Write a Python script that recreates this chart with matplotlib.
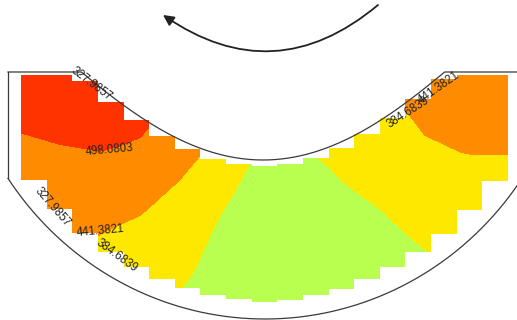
import numpy as np
import matplotlib
matplotlib.use("Agg")
import matplotlib.pyplot as plt
from matplotlib.path import Path
from matplotlib.patches import PathPatch, FancyArrowPatch

# contour levels and fill colours (under, bands..., over)
levels = [327.9857, 384.6839, 441.3821, 498.0803]
band_colors = ["#b8ff50", "#b8ff50", "#ffe800", "#ff8c00", "#ff3300"]

# field: stations along the bend (pixel x) and
# fractions of the way from the inner wall to the outer wall
x_nodes = [21, 60, 100, 140, 180, 220, 260, 300, 340, 380, 420, 460, 508]
eta_nodes = [0.0, 0.25, 0.5, 0.75, 1.0]
inner_row = [540, 545, 530, 510, 470, 425, 375, 378, 400, 425, 455, 490, 495]
row_25 = [520, 520, 510, 485, 440, 395, 360, 365, 382, 410, 438, 465, 480]
row_50 = [497, 490, 480, 447, 420, 375, 350, 350, 365, 385, 415, 436, 460]
row_75 = [480, 468, 446, 425, 400, 360, 340, 340, 350, 365, 392, 415, 430]
outer_row = [465, 452, 425, 400, 375, 345, 330, 330, 340, 350, 370, 398, 410]


def inner_curve(x):
    dx = np.asarray(x, float) - 263
    return 160 - (dx**2 / 330 - 1.1e-8 * dx**4)


def inner_wall(x):
    return np.maximum(72, inner_curve(x))


def outer_wall(x):
    u = (np.asarray(x, float) - 265) / 310
    return 319 * np.sqrt(np.clip(1 - u**2, 0, None))


fig = plt.figure(figsize=(5.17, 3.2), dpi=100)
ax = fig.add_axes([0, 0, 1, 1])
ax.set_xlim(0, 517)
ax.set_ylim(320, 0)
ax.axis("off")

# curvilinear grid between the walls
xn = np.array(x_nodes, float)
top = inner_wall(xn)
bot = outer_wall(xn)
eta = np.array(eta_nodes)
Y = top[None, :] + eta[:, None] * (bot - top)[None, :]
Y = np.vstack([top - 14, Y])
X = np.tile(xn, (Y.shape[0], 1))
field = np.array([inner_row, row_25, row_50, row_75, outer_row], float)
Z = np.vstack([field[0], field])

cs = ax.contourf(X, Y, Z, levels=levels, colors=band_colors, extend="both")

# stepped mesh edge
edges = np.linspace(21, 508, 20)
centers = (edges[:-1] + edges[1:]) / 2
tops = np.maximum(75, inner_curve(centers) + 6)
bots = np.minimum(outer_wall(edges[:-1]), outer_wall(edges[1:])) - 17
verts = []
for a, b, t in zip(edges[:-1], edges[1:], tops):
    verts += [(a, t), (b, t)]
for a, b, bt in reversed(list(zip(edges[:-1], edges[1:], bots))):
    verts += [(b, bt), (a, bt)]
verts.append(verts[0])
clip = PathPatch(Path(verts, closed=True), transform=ax.transData,
                 facecolor="none", edgecolor="none")
cs.set_clip_path(clip)

# channel outline
xs = np.linspace(8, 517, 800)
line_kw = dict(color="#3a3a3a", lw=0.9, zorder=3)
ax.plot(xs, inner_wall(xs), **line_kw)
ax.plot(xs, outer_wall(xs), **line_kw)
ax.plot([8, 8], [72, outer_wall(8)], **line_kw)

# contour labels
labels = [
    ("327.9857", 91, 84, -37),
    ("498.0803", 109, 150, 5),
    ("327.9857", 53, 207, -49),
    ("441.3821", 100, 231, 5),
    ("384.6839", 117, 256, -36),
    ("384.6839", 408, 112, 33),
    ("441.3821", 439, 88, 35),
]
for txt, x, y, rot in labels:
    ax.text(x, y, txt, rotation=rot, rotation_mode="anchor", ha="center",
            va="center", fontsize=8.3, family="Liberation Sans",
            color="#222222", zorder=4)

# rotation arrow
arrow = FancyArrowPatch((378, 5), (163, 15), connectionstyle="arc3,rad=-0.38",
                        arrowstyle="-|>", mutation_scale=16, lw=1.3,
                        color="#222222", shrinkA=0, shrinkB=0)
ax.add_patch(arrow)

fig.savefig("out.png", dpi=100)
plt.close(fig)
